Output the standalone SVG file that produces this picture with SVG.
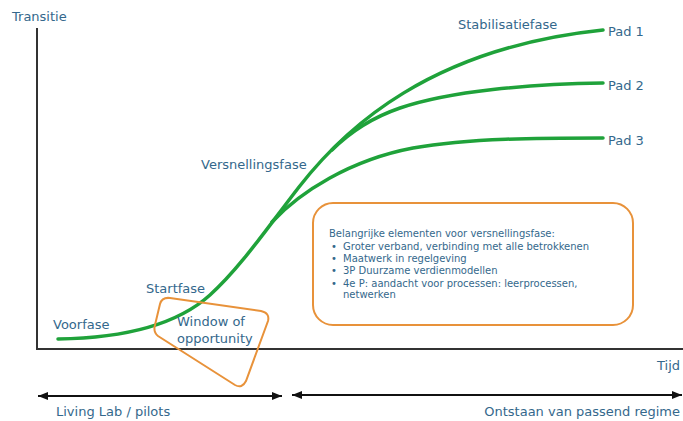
<svg xmlns="http://www.w3.org/2000/svg" width="683" height="421" viewBox="0 0 683 421">
<defs>
<style>
.t{font-family:"DejaVu Sans",Verdana,sans-serif;font-size:13px;fill:#34688c}
.s{font-family:"DejaVu Sans",Verdana,sans-serif;font-size:10px;fill:#34688c}
.g{fill:none;stroke:#1fa23a;stroke-width:3.5;stroke-linecap:round}
.o{fill:none;stroke:#e8923a;stroke-width:2}
.ax{fill:none;stroke:#333;stroke-width:2}
.ar{fill:none;stroke:#111;stroke-width:1.8}
</style>
<marker id="ah" viewBox="0 0 10 8" refX="10" refY="4" markerWidth="10" markerHeight="8" markerUnits="userSpaceOnUse" orient="auto-start-reverse">
<path d="M0,0 L10,4 L0,8 Z" fill="#111"/>
</marker>
</defs>
<rect width="683" height="421" fill="#fff"/>
<g id="axes">
<path class="ax" d="M37,28 L37,349 L683,349"/>
<text class="t" x="12" y="21">Transitie</text>
<text class="t" x="657" y="370">Tijd</text>
</g>
<g id="curves">
<path class="g" d="M58,339 C130,338 180,322 210,295 C240,268 268,227 299,187 C345,128 430,48 603,30"/>
<path class="g" d="M332,150 C342,140 365,120 400,108 C450,91 530,84 603,83"/>
<path class="g" d="M272,222 C300,192 350,160 413,148 C470,138 540,138 603,138"/>
</g>
<g id="labels">
<text class="t" x="53" y="329">Voorfase</text>
<text class="t" x="146" y="293">Startfase</text>
<text class="t" x="201" y="169">Versnellingsfase</text>
<text class="t" x="458" y="29">Stabilisatiefase</text>
<text class="t" x="608" y="36">Pad 1</text>
<text class="t" x="608" y="90">Pad 2</text>
<text class="t" x="608" y="145">Pad 3</text>
</g>
<g id="window">
<path class="o" d="M170,298 L261,311 Q270,313 268,321 L246,381 Q242,389 235,385 L158,336 Q153,332 155,325 L160,304 Q162,297 170,298 Z"/>
<text class="t" x="177" y="326">Window of</text>
<text class="t" x="177" y="343">opportunity</text>
</g>
<g id="elements">
<rect class="o" x="313" y="203" width="320" height="122" rx="20" ry="20"/>
<text class="s" x="329" y="237">Belangrijke elementen voor versnellingsfase:</text>
<text class="s" x="331" y="249.5">•</text><text class="s" x="343" y="249.5">Groter verband, verbinding met alle betrokkenen</text>
<text class="s" x="331" y="262">•</text><text class="s" x="343" y="262">Maatwerk in regelgeving</text>
<text class="s" x="331" y="274">•</text><text class="s" x="343" y="274">3P Duurzame verdienmodellen</text>
<text class="s" x="331" y="286.5">•</text><text class="s" x="343" y="286.5">4e P: aandacht voor processen: leerprocessen,</text>
<text class="s" x="343" y="298">netwerken</text>
</g>
<g id="connectors">
<line class="ar" x1="38" y1="396" x2="282" y2="396" marker-start="url(#ah)" marker-end="url(#ah)"/>
<line class="ar" x1="292" y1="395" x2="682" y2="395" marker-start="url(#ah)" marker-end="url(#ah)"/>
</g>
<g id="phases">
<text class="t" x="56" y="416">Living Lab / pilots</text>
<text class="t" x="680" y="416" text-anchor="end">Ontstaan van passend regime</text>
</g>
</svg>
